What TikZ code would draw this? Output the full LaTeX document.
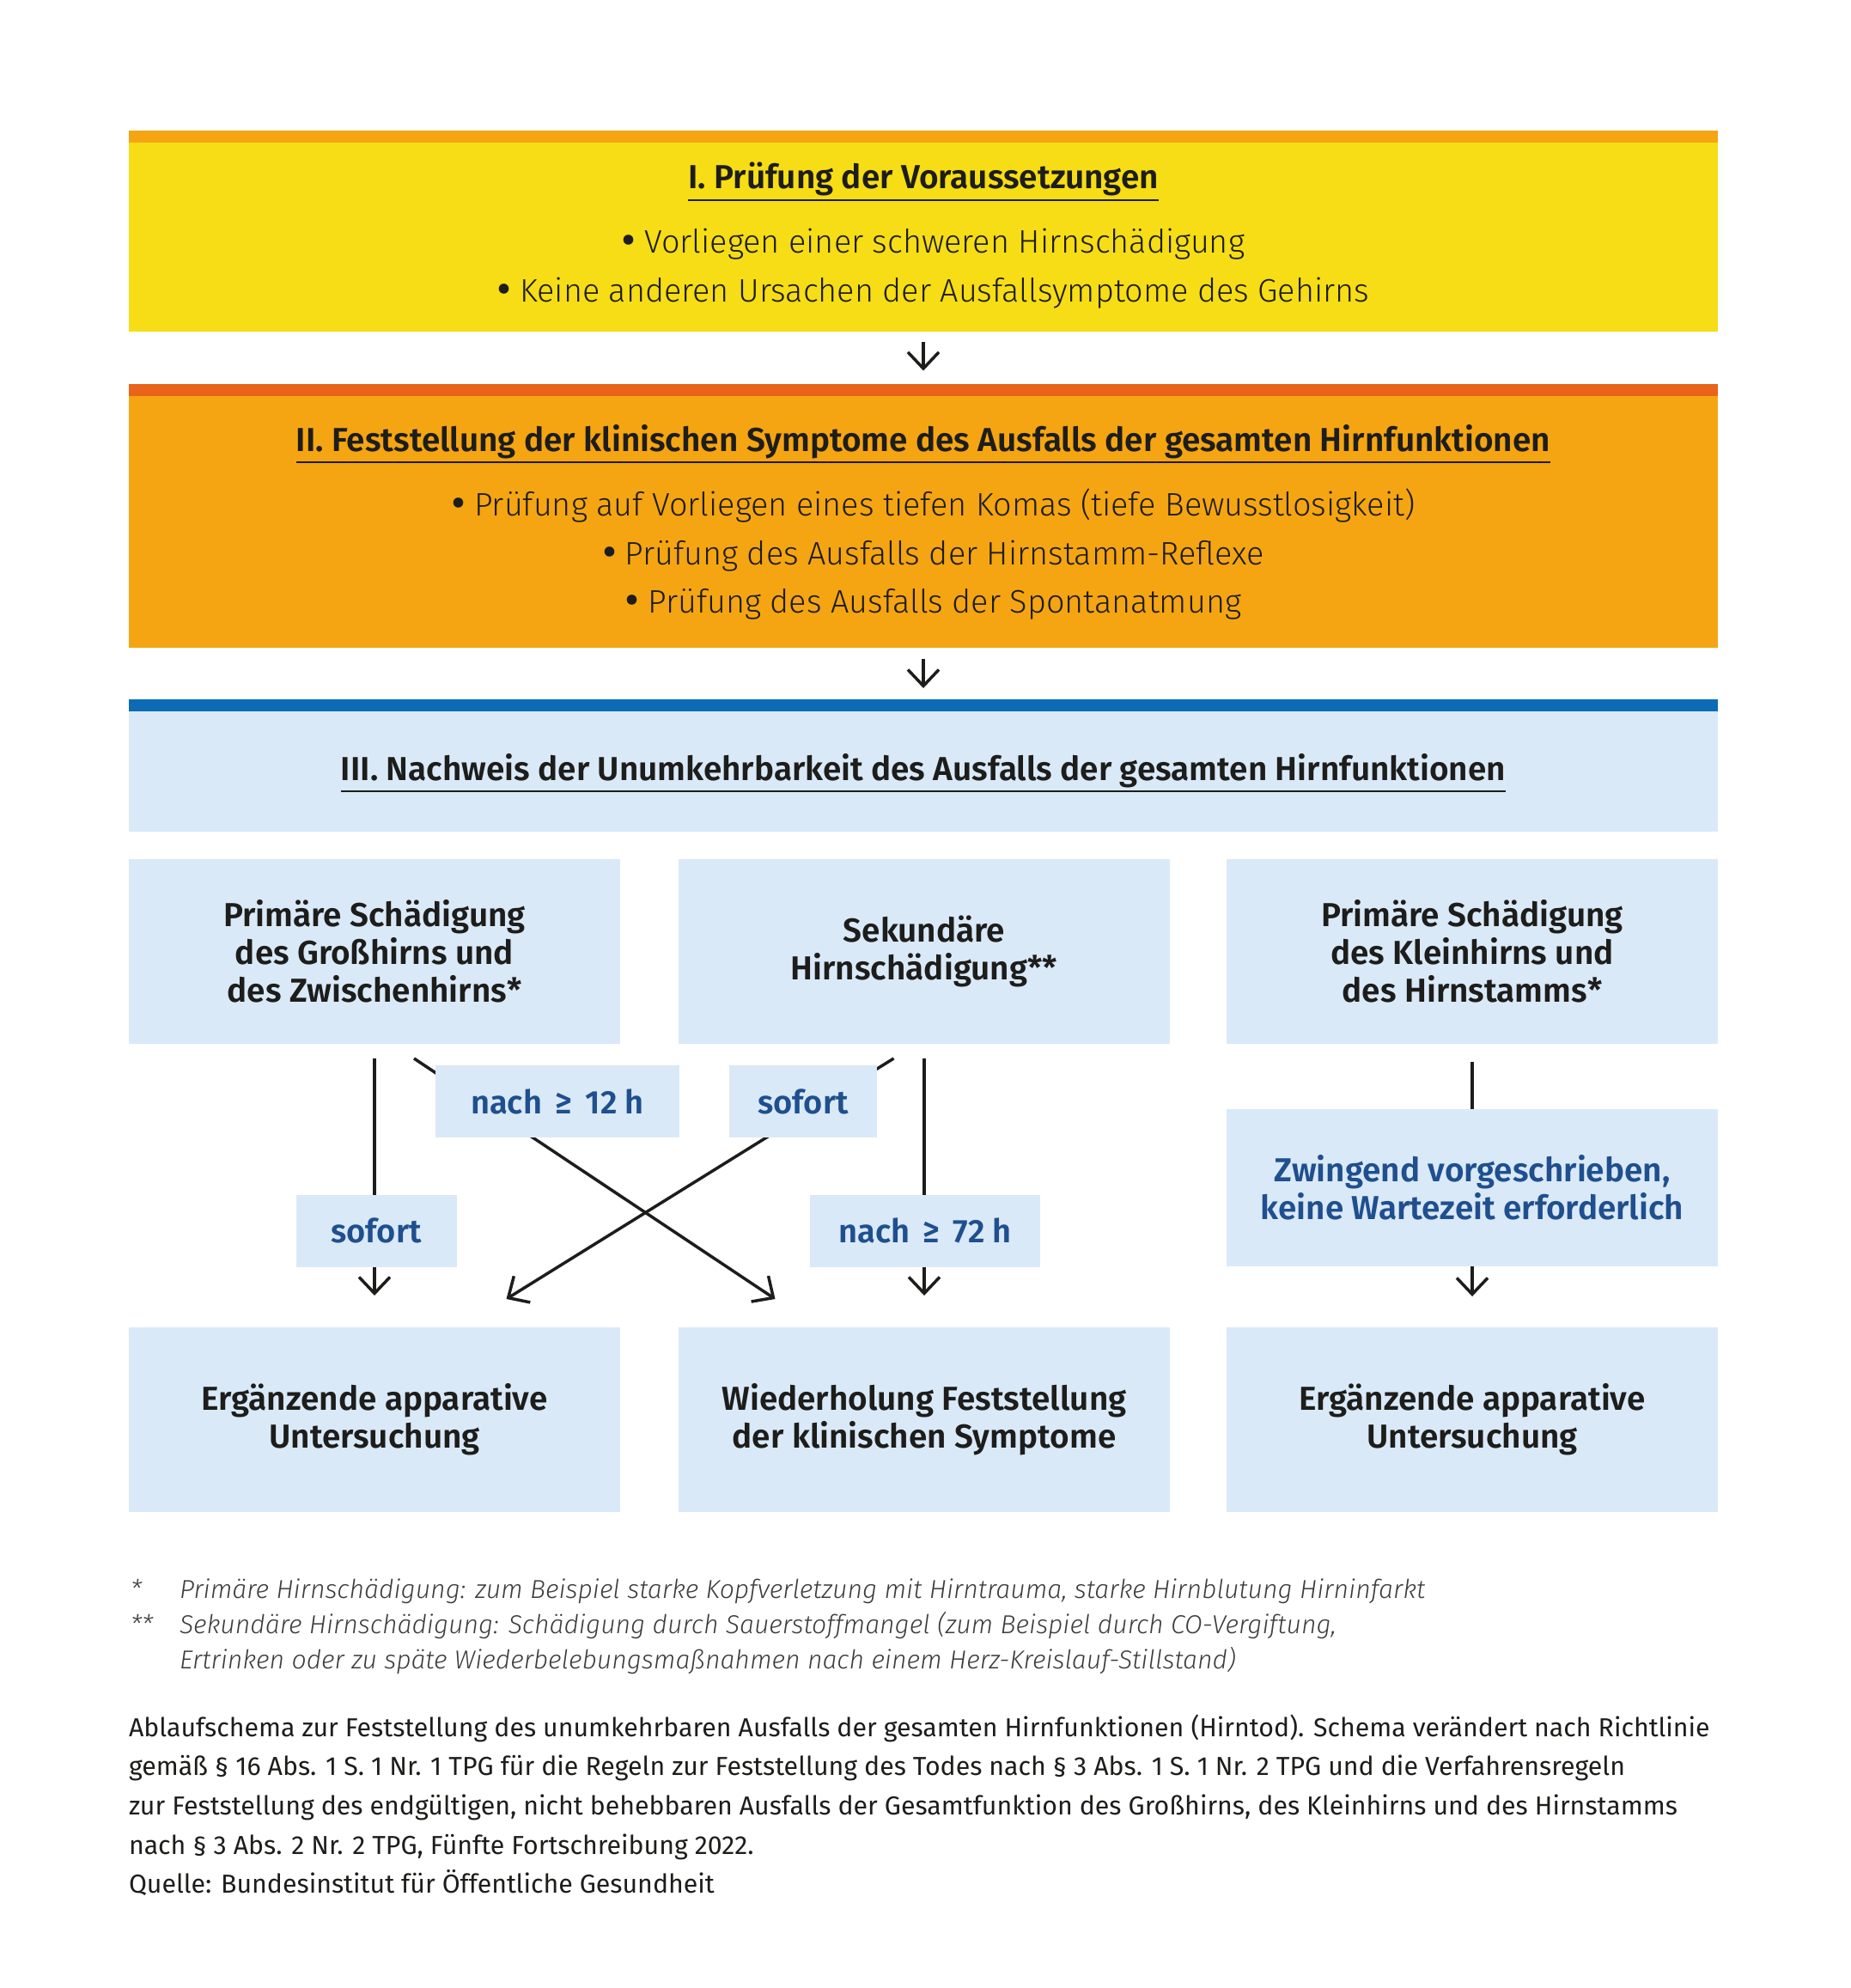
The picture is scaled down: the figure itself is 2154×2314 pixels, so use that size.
\documentclass[tikz,border=0pt]{standalone}
\usepackage{fontspec}
\IfFontExistsTF{Fira Sans SemiBold}{%
  \IfFontExistsTF{Fira Sans Light}{%
    \setmainfont{Fira Sans Light}[BoldFont={Fira Sans SemiBold}, ItalicFont={Fira Sans Light Italic}]%
  }{%
    \setmainfont{Fira Sans}[BoldFont={Fira Sans SemiBold}]%
  }%
}{%
  \setmainfont{Fira Sans}%
}
\newfontfamily\capfont{Fira Sans}
\newcommand{\bigbul}{{\bfseries\fontsize{44}{44}\selectfont •}}
\usetikzlibrary{arrows.meta}
\pgfdeclarelayer{bg}
\pgfsetlayers{bg,main}
\definecolor{yellowc}{HTML}{F6DD15}
\definecolor{orangec}{HTML}{F5A512}
\definecolor{stripII}{HTML}{E9631A}
\definecolor{bluestrip}{HTML}{0B6CB5}
\definecolor{lightblue}{HTML}{DAE9F7}
\definecolor{labelblue}{HTML}{1F4F8E}
\definecolor{dark}{HTML}{1D1D1B}
\definecolor{greytext}{HTML}{3C3C3B}
\begin{document}
\begin{tikzpicture}[x=1pt,y=-1pt,
  every node/.style={inner sep=0pt, outer sep=0pt},
  bandbox/.style={rectangle, minimum width=1850pt},
  stripbox/.style={rectangle, minimum width=1850pt, minimum height=14pt, anchor=south},
  secttl/.style={font=\bfseries\fontsize{38.7}{44}\selectfont, text=dark, anchor=base},
  bul/.style={font=\fontsize{37.8}{44}\selectfont, text=dark, anchor=base},
  ulline/.style={draw=dark, line width=2.5pt},
  panel/.style={rectangle, minimum width=572pt, minimum height=215pt, fill=lightblue, text=dark, align=center, font=\bfseries\fontsize{38.7}{44}\selectfont},
  labbox/.style={rectangle, minimum height=84pt, fill=lightblue, text=labelblue, font=\bfseries\fontsize{38}{44}\selectfont},
  arr/.style={draw=dark, line width=3.5pt, -{Straight Barb[length=19pt,width=36pt,line width=3.5pt]}},
  foottext/.style={font=\itshape\fontsize{30.2}{41}\selectfont, text=greytext, anchor=base west},
  captext/.style={font=\capfont\fontsize{30.3}{45}\selectfont, text=dark, anchor=base west}
]
\useasboundingbox (0,0) rectangle (2154,2314);

% Section I
\node[bandbox, fill=yellowc, minimum height=220pt] (boxI) at (1075,276) {};
\node[stripbox, fill=orangec] (stripI) at (boxI.north) {};
\node[secttl] (t1) at (1075,220) {I. Prüfung der Voraussetzungen};
\draw[ulline] ([yshift=-13pt]t1.base west) -- ([yshift=-13pt]t1.base east);
\node[bul] (b11) at (1087,295) {\bigbul\ Vorliegen einer schweren Hirnschädigung};
\node[bul] (b12) at (1087,352) {\bigbul\ Keine anderen Ursachen der Ausfallsymptome des Gehirns};

% Section II
\node[bandbox, fill=orangec, minimum height=293.5pt] (boxII) at (1075,607.25) {};
\node[stripbox, fill=stripII] (stripIIn) at (boxII.north) {};
\node[secttl] (t2) at (1075,525) {II. Feststellung der klinischen Symptome des Ausfalls der gesamten Hirnfunktionen};
\draw[ulline] ([yshift=-13pt]t2.base west) -- ([yshift=-13pt]t2.base east);
\node[bul] (b21) at (1087,600) {\bigbul\ Prüfung auf Vorliegen eines tiefen Komas (tiefe Bewusstlosigkeit)};
\node[bul] (b22) at (1087,657) {\bigbul\ Prüfung des Ausfalls der Hirnstamm-Reflexe};
\node[bul] (b23) at (1087,713) {\bigbul\ Prüfung des Ausfalls der Spontanatmung};

% Section III
\node[bandbox, fill=lightblue, minimum height=140pt] (boxIII) at (1075,898) {};
\node[stripbox, fill=bluestrip] (stripIII) at (boxIII.north) {};
\node[secttl] (t3) at (1075,908) {III. Nachweis der Unumkehrbarkeit des Ausfalls der gesamten Hirnfunktionen};
\draw[ulline] ([yshift=-13pt]t3.base west) -- ([yshift=-13pt]t3.base east);

% Row of panels
\node[panel] (r1) at (436,1107.5) {Primäre Schädigung\\des Großhirns und\\des Zwischenhirns*};
\node[panel] (r2) at (1076,1107.5) {Sekundäre\\Hirnschädigung**};
\node[panel] (r3) at (1714,1107.5) {Primäre Schädigung\\des Kleinhirns und\\des Hirnstamms*};

% Labels
\node[labbox, minimum width=284pt] (n12) at (649,1282) {nach\, ≥\, 12 h};
\node[labbox, minimum width=172pt] (s1) at (935,1282) {sofort};
\node[labbox, minimum width=187pt] (s2) at (438,1432.5) {sofort};
\node[labbox, minimum width=268pt] (n72) at (1077,1432.5) {nach\, ≥\, 72 h};
\node[panel, minimum height=183pt, text=labelblue] (zw) at (1714,1382.5) {Zwingend vorgeschrieben,\\keine Wartezeit erforderlich};

% Bottom panels
\node[panel] (q1) at (436,1652.5) {Ergänzende apparative\\Untersuchung};
\node[panel] (q2) at (1076,1652.5) {Wiederholung Feststellung\\der klinischen Symptome};
\node[panel] (q3) at (1714,1652.5) {Ergänzende apparative\\Untersuchung};

% Connectors
\begin{pgfonlayer}{bg}
\draw[arr, shorten <=12pt, shorten >=15pt] (boxI.south) -- (stripIIn.north);
\draw[arr, shorten <=13pt, shorten >=13pt] (boxII.south) -- (stripIII.north);
\draw[arr] ([yshift=-17pt]r1.south) -- ([yshift=37pt]q1.north);
\draw[arr] ([yshift=-17pt]r2.south) -- ([yshift=37pt]q2.north);
\draw[arr] ([shift={(46,17)}]r1.south) -- ([shift={(-173.5,-33)}]q2.north);
\draw[arr] ([shift={(-35.5,17)}]r2.south) -- ([shift={(153.5,-33)}]q1.north);
\draw[draw=dark, line width=3.5pt] ([yshift=-21pt]r3.south) -- (zw.north);
\draw[arr] (zw.south) -- ([yshift=36pt]q3.north);
\end{pgfonlayer}

% Footnotes
\node[foottext] (f1s) at (152,1860) {*};
\node[foottext] (f1) at (209,1860) {Primäre Hirnschädigung: zum Beispiel starke Kopfverletzung mit Hirntrauma, starke Hirnblutung Hirninfarkt};
\node[foottext] (f2s) at (152,1901) {**};
\node[foottext] (f2) at (209,1901) {Sekundäre Hirnschädigung: Schädigung durch Sauerstoffmangel (zum Beispiel durch CO-Vergiftung,};
\node[foottext] (f3) at (209,1942) {Ertrinken oder zu späte Wiederbelebungsmaßnahmen nach einem Herz-Kreislauf-Stillstand)};

% Caption
\node[captext] (c1) at (150,2021) {Ablaufschema zur Feststellung des unumkehrbaren Ausfalls der gesamten Hirnfunktionen (Hirntod). Schema verändert nach Richtlinie};
\node[captext] (c2) at (150,2066) {gemäß § 16 Abs. 1 S. 1 Nr. 1 TPG für die Regeln zur Feststellung des Todes nach § 3 Abs. 1 S. 1 Nr. 2 TPG und die Verfahrensregeln};
\node[captext] (c3) at (150,2112) {zur Feststellung des endgültigen, nicht behebbaren Ausfalls der Gesamtfunktion des Großhirns, des Kleinhirns und des Hirnstamms};
\node[captext] (c4) at (150,2158) {nach § 3 Abs. 2 Nr. 2 TPG, Fünfte Fortschreibung 2022.};
\node[captext] (c5) at (150,2203) {Quelle: Bundesinstitut für Öffentliche Gesundheit};
\end{tikzpicture}
\end{document}
